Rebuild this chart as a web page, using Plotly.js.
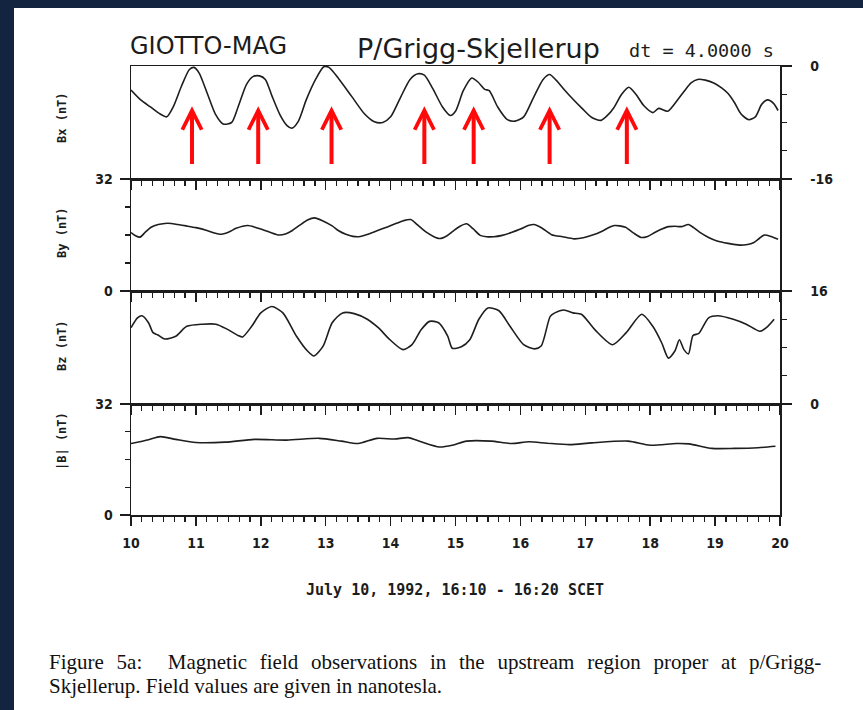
<!DOCTYPE html>
<html>
<head>
<meta charset="utf-8">
<script src="https://cdn.plot.ly/plotly-3.0.1.min.js"></script>
<style>
  html, body { margin: 0; padding: 0; background: #12243f; }
  #chart { width: 863px; height: 710px; }
</style>
</head>
<body>
<div id="chart"></div>
<script>
// ---- data (time in minutes after 16:00 SCET, field in nT) ----
const bxTime = [10.00,10.15,10.30,10.45,10.55,10.65,10.78,10.90,10.97,11.05,11.18,11.30,11.42,11.55,11.65,11.78,11.88,11.98,12.07,12.17,12.30,12.40,12.48,12.58,12.70,12.85,12.97,13.05,13.20,13.40,13.60,13.75,13.88,14.00,14.15,14.30,14.42,14.52,14.65,14.80,14.92,15.00,15.12,15.25,15.35,15.45,15.52,15.65,15.80,15.92,16.05,16.20,16.35,16.45,16.55,16.68,16.80,16.95,17.10,17.24,17.34,17.44,17.56,17.67,17.78,17.90,18.04,18.13,18.27,18.43,18.53,18.63,18.73,18.85,18.98,19.10,19.20,19.30,19.40,19.52,19.62,19.72,19.81,19.90,19.97];
const bxValues = [-3.4,-4.8,-5.8,-6.8,-7.2,-5.8,-2.8,-0.5,-0.2,-1.0,-4.0,-6.8,-8.2,-8.0,-5.8,-2.6,-1.5,-1.4,-1.9,-4.2,-7.0,-8.4,-8.8,-7.8,-4.8,-1.8,-0.1,-0.2,-1.8,-4.3,-6.8,-7.9,-8.0,-7.2,-4.5,-1.9,-1.1,-1.3,-3.2,-5.8,-7.0,-6.4,-3.5,-1.7,-2.3,-3.3,-3.5,-5.8,-7.6,-7.8,-7.2,-4.5,-1.9,-1.2,-2.0,-3.4,-4.6,-6.0,-7.3,-7.7,-7.0,-5.9,-4.0,-3.0,-4.0,-5.6,-6.6,-6.0,-6.4,-4.7,-3.5,-2.4,-1.9,-2.0,-2.4,-3.1,-3.9,-5.2,-6.8,-7.6,-7.2,-5.4,-4.8,-5.3,-6.3];

const byTime = [10.00,10.07,10.14,10.22,10.31,10.42,10.52,10.62,10.72,10.85,11.00,11.17,11.28,11.38,11.50,11.62,11.72,11.80,11.90,12.00,12.14,12.28,12.38,12.48,12.60,12.72,12.83,12.95,13.10,13.20,13.31,13.42,13.51,13.65,13.79,13.95,14.10,14.20,14.31,14.42,14.55,14.66,14.76,14.87,14.97,15.07,15.17,15.27,15.38,15.48,15.59,15.72,15.86,16.00,16.12,16.21,16.33,16.48,16.65,16.83,16.97,17.10,17.25,17.38,17.45,17.53,17.62,17.74,17.86,17.96,18.07,18.18,18.28,18.38,18.48,18.59,18.67,18.76,18.90,19.03,19.20,19.38,19.50,19.59,19.68,19.76,19.86,19.97];
const byValues = [16.7,15.8,15.4,16.8,18.2,19.0,19.3,19.3,19.0,18.6,18.1,17.3,16.6,16.2,16.8,17.9,18.5,18.7,18.3,17.7,16.8,16.0,16.3,17.2,18.8,20.3,20.9,20.1,18.6,17.2,16.2,15.6,15.5,16.2,17.2,18.3,19.4,20.1,20.4,18.8,16.8,15.6,15.0,15.8,17.2,18.5,19.2,17.8,15.9,15.5,15.5,15.9,16.7,17.7,18.7,19.0,18.0,16.1,15.5,14.9,15.2,15.9,17.0,18.3,18.7,18.6,18.2,16.6,15.3,15.6,16.7,17.7,18.4,18.5,18.4,19.0,18.1,16.8,15.3,14.3,13.6,13.1,13.3,13.8,15.0,16.0,15.6,14.8];

const bzTime = [10.00,10.10,10.17,10.27,10.34,10.41,10.52,10.69,10.86,11.10,11.31,11.48,11.65,11.72,11.86,12.00,12.17,12.34,12.55,12.72,12.82,12.96,13.10,13.26,13.44,13.64,13.81,13.99,14.19,14.33,14.47,14.60,14.74,14.88,14.95,15.09,15.22,15.36,15.50,15.67,15.84,16.05,16.22,16.32,16.46,16.53,16.67,16.81,16.94,17.15,17.42,17.63,17.87,18.04,18.18,18.28,18.38,18.45,18.52,18.59,18.66,18.75,18.90,19.04,19.28,19.48,19.69,19.79,19.91];
const bzValues = [10.8,12.2,12.5,11.5,10.1,9.8,9.2,9.6,11.0,11.3,11.3,10.6,9.7,9.5,11.0,12.9,13.8,12.9,9.6,7.5,6.8,8.2,11.5,12.9,12.8,12.0,10.8,9.1,7.7,8.4,10.5,11.7,11.5,9.6,7.9,8.1,9.1,12.0,13.6,13.2,11.0,8.4,7.8,8.2,12.4,12.9,13.3,12.9,12.7,10.5,8.4,10.1,12.7,11.0,8.6,6.5,7.5,9.1,7.7,7.1,9.7,10.0,12.2,12.5,12.0,11.3,10.3,10.8,12.0];

const btTime = [10.00,10.27,10.45,10.69,11.00,11.45,11.90,12.40,12.90,13.24,13.50,13.79,14.06,14.27,14.47,14.75,14.95,15.17,15.55,15.86,16.13,16.41,16.76,17.10,17.66,18.00,18.40,18.60,18.95,19.30,19.66,19.93];
const btValues = [20.6,21.7,22.6,21.8,20.9,21.0,21.8,21.6,22.1,21.3,20.6,22.1,21.9,22.3,21.1,19.6,20.1,21.3,21.3,20.6,21.1,20.7,20.3,20.8,21.3,20.1,20.6,20.5,19.2,19.2,19.4,19.8];

// marked Bx maxima (red arrows)
const arrowTimes = [10.94, 11.96, 13.09, 14.52, 15.28, 16.45, 17.64];

// axis tick labels
const xTickVals = [10,11,12,13,14,15,16,17,18,19,20];
const xTickText = ['10','11','12','13','14','15','16','17','18','19','20'];
const bxTickVals = [-16, 0];  const bxTickText = ['-16', '0'];
const byTickVals = [0, 32];   const byTickText = ['0', '32'];
const bzTickVals = [0, 16];   const bzTickText = ['0', '16'];
const btTickVals = [0, 32];   const btTickText = ['0', '32'];

// ---- layout helpers ----
const W = 863, H = 710;
const px = v => v / W;
const py = v => 1 - v / H;
const ink = '#1c1c1c';
const numFont = {family: '"Liberation Sans Narrow", "DejaVu Sans Condensed", "Liberation Sans", sans-serif', size: 14, color: ink, weight: 'bold'};

const xDom = [px(131), px(780)];
const panels = [[66, 179], [179, 291], [291, 404], [404, 515]];

function xAxis(yName, showLabels) {
  return {
    domain: xDom, range: [10, 20], anchor: yName,
    showline: true, mirror: true, linecolor: ink, linewidth: 1.5,
    showgrid: false, zeroline: false,
    ticks: 'outside', ticklen: 9, tickwidth: 1.5, tickcolor: ink,
    tickmode: 'array', tickvals: xTickVals, ticktext: xTickText,
    minor: {dtick: 1/6, tick0: 10, ticks: 'outside', ticklen: 5, tickwidth: 1.3, tickcolor: ink, showgrid: false},
    showticklabels: showLabels, tickfont: numFont, ticklabelstandoff: 6,
    fixedrange: true
  };
}
function yAxis(i, range, side, tv, tt, xName) {
  const p = panels[i];
  return {
    domain: [py(p[1]), py(p[0])], range: range, side: side, anchor: xName,
    showline: true, mirror: true, linecolor: ink, linewidth: 1.5,
    showgrid: false, zeroline: false,
    ticks: 'outside', ticklen: 10, tickwidth: 1.5, tickcolor: ink,
    tickmode: 'array', tickvals: tv, ticktext: tt,
    minor: {dtick: (range[1] - range[0]) / 4, tick0: range[0], ticks: 'outside', ticklen: 5, tickwidth: 1.3, tickcolor: ink, showgrid: false},
    tickfont: numFont, ticklabelstandoff: side === 'right' ? 16 : 4,
    fixedrange: true
  };
}

const lineStyle = {color: '#1e1e1e', width: 1.6, shape: 'spline', smoothing: 0.7};
const traces = [
  {x: bxTime, y: bxValues, xaxis: 'x', yaxis: 'y', type: 'scatter', mode: 'lines', line: lineStyle, hoverinfo: 'skip'},
  {x: byTime, y: byValues, xaxis: 'x2', yaxis: 'y2', type: 'scatter', mode: 'lines', line: lineStyle, hoverinfo: 'skip'},
  {x: bzTime, y: bzValues, xaxis: 'x3', yaxis: 'y3', type: 'scatter', mode: 'lines', line: lineStyle, hoverinfo: 'skip'},
  {x: btTime, y: btValues, xaxis: 'x4', yaxis: 'y4', type: 'scatter', mode: 'lines', line: lineStyle, hoverinfo: 'skip'}
];

const annotations = [];
arrowTimes.forEach(t => annotations.push({
  x: t, y: -5.7, xref: 'x', yref: 'y', ax: t, ay: -14.1, axref: 'x', ayref: 'y',
  text: '', showarrow: true, arrowhead: 5, arrowsize: 0.95, arrowwidth: 4, arrowcolor: '#ff0a0a', standoff: 0
}));
function label(text, x, y, font, extra) {
  return Object.assign({text: text, x: px(x), y: py(y), xref: 'paper', yref: 'paper', showarrow: false,
    xanchor: 'left', yanchor: 'middle', font: font}, extra || {});
}
const sans = '"DejaVu Sans", "Liberation Sans", sans-serif';
const mono = '"DejaVu Sans Mono", "Liberation Mono", monospace';
const serif = '"Liberation Serif", "DejaVu Serif", serif';
annotations.push(label('GIOTTO-MAG', 128, 46, {family: sans, size: 24, color: ink}));
annotations.push(label('P/Grigg-Skjellerup', 355, 48, {family: sans, size: 27, color: ink}));
annotations.push(label('dt = 4.0000 s', 627, 50, {family: mono, size: 18.5, color: ink}));
const yTitleFont = {family: mono, size: 12, color: ink, weight: 'bold'};
[['Bx (nT)', 118], ['By (nT)', 233], ['Bz (nT)', 346], ['|B| (nT)', 441]].forEach(d =>
  annotations.push(label(d[0], 62, d[1], yTitleFont, {xanchor: 'center', textangle: -90})));
annotations.push(label('July 10, 1992, 16:10 - 16:20 SCET', 455, 590, {family: mono, size: 15, color: ink, weight: 'bold'}, {xanchor: 'center'}));
annotations.push(label('<span style="word-spacing:7.5px">Figure 5a:&nbsp; Magnetic field observations in the upstream region proper at p/Grigg-</span>', 47, 662, {family: serif, size: 21, color: '#111'}));
annotations.push(label('Skjellerup. Field values are given in nanotesla.', 47, 686, {family: serif, size: 21, color: '#111'}));

const layout = {
  width: W, height: H, autosize: false,
  margin: {l: 0, r: 0, t: 0, b: 0, pad: 0},
  paper_bgcolor: '#12243f', plot_bgcolor: 'rgba(0,0,0,0)',
  showlegend: false,
  xaxis: xAxis('y', false), xaxis2: xAxis('y2', false), xaxis3: xAxis('y3', false), xaxis4: xAxis('y4', true),
  yaxis: yAxis(0, [-16, 0], 'right', bxTickVals, bxTickText, 'x'),
  yaxis2: yAxis(1, [0, 32], 'left', byTickVals, byTickText, 'x2'),
  yaxis3: yAxis(2, [0, 16], 'right', bzTickVals, bzTickText, 'x3'),
  yaxis4: yAxis(3, [0, 32], 'left', btTickVals, btTickText, 'x4'),
  shapes: [{type: 'rect', xref: 'paper', yref: 'paper', x0: px(14), x1: 1, y0: 0, y1: py(8),
            fillcolor: '#ffffff', line: {width: 0}, layer: 'below'}],
  annotations: annotations
};

Plotly.newPlot('chart', traces, layout, {staticPlot: true, displayModeBar: false});
</script>
</body>
</html>
